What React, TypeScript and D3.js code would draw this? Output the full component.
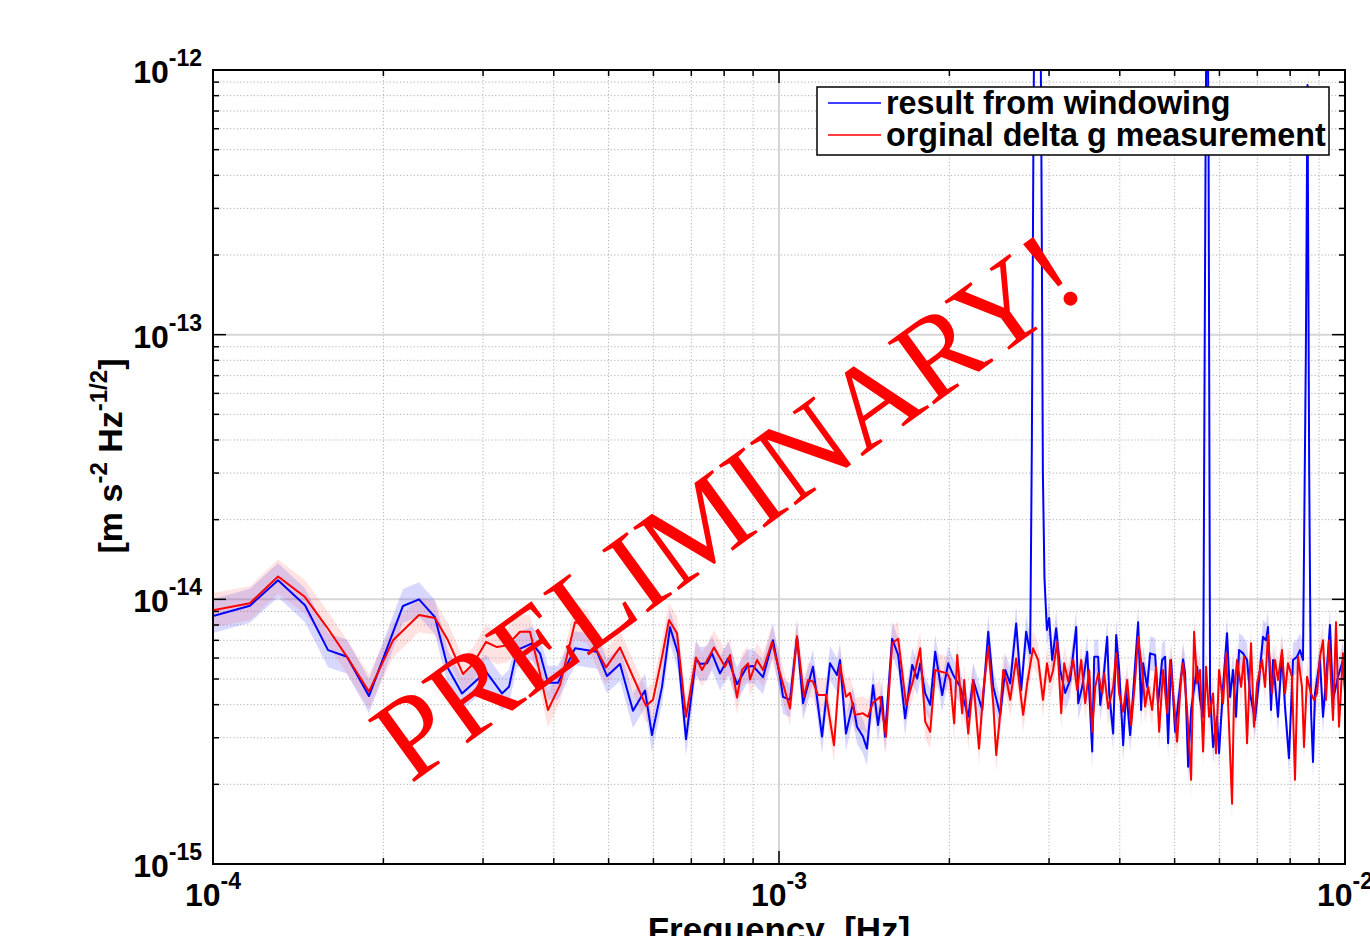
import React, { useEffect, useRef } from 'react';
import * as d3 from 'd3';

// Frequencies in mHz, amplitude spectral density in units of 1e-15 m s^-2 Hz^-1/2
const blueFreq = [
  0.1000, 0.1162, 0.1303, 0.1454, 0.1597, 0.1725, 0.1886, 0.2166, 0.2312, 0.2467,
  0.2601, 0.2754, 0.3036, 0.3240, 0.3334, 0.3444, 0.3661, 0.3782, 0.3907, 0.4070,
  0.4361, 0.4769, 0.4967, 0.5237, 0.5521, 0.5798, 0.5965, 0.6213, 0.6418, 0.6631,
  0.6850, 0.7134, 0.7251, 0.7461, 0.7614, 0.7866, 0.8126, 0.8429, 0.8779, 0.8996,
  0.9370, 0.9759, 1.0041, 1.0164, 1.0458, 1.0760, 1.1025, 1.1483, 1.1913, 1.2306,
  1.2660, 1.2816, 1.3132, 1.3511, 1.3733, 1.4072, 1.4302, 1.4659, 1.4961, 1.5206,
  1.5393, 1.5843, 1.6238, 1.6705, 1.7193, 1.7546, 1.7762, 1.8126, 1.8499, 1.8879,
  1.9423, 1.9904, 2.0313, 2.0900, 2.1593, 2.2038, 2.2861, 2.3425, 2.3905, 2.4594,
  2.5100, 2.5615, 2.6245, 2.6784, 2.7334, 2.7783, 2.7976, 2.8159, 2.8354, 2.8621,
  2.8855, 2.9056, 2.9257, 2.9447, 2.9735, 3.0015, 3.0384, 3.0883, 3.1392, 3.2038,
  3.2698, 3.3507, 3.3780, 3.4335, 3.5040, 3.5759, 3.6051, 3.6641, 3.6940, 3.7393,
  3.8005, 3.8316, 3.8944, 3.9421, 3.9904, 4.0556, 4.1053, 4.1725, 4.2238, 4.3105,
  4.3633, 4.3990, 4.4711, 4.5260, 4.6189, 4.6756, 4.7522, 4.8106, 4.8696, 4.9294,
  5.0101, 5.0717, 5.1757, 5.2180, 5.2821, 5.3468, 5.4786, 5.5457, 5.6136, 5.6710,
  5.7057, 5.7407, 5.7758, 5.8466, 5.9423, 5.9909, 6.0890, 6.1887, 6.2647, 6.3417,
  6.4196, 6.4984, 6.6051, 6.7133, 6.7955, 6.9349, 7.0488, 7.1642, 7.2522, 7.3115,
  7.4010, 7.4615, 7.6146, 7.7394, 7.8342, 7.9625, 8.0929, 8.2258, 8.3269, 8.4292,
  8.5259, 8.5851, 8.6445, 8.7077, 8.7790, 8.8507, 9.0327, 9.1437, 9.2938, 9.4080,
  9.5236, 9.7194, 9.9191, 10.000
];
const blueAmp = [
  8.65, 9.46, 11.8, 9.5, 6.43, 6.07, 4.31, 9.44, 10.0, 8.56,
  5.49, 4.41, 5.33, 4.41, 4.67, 6.43, 6.82, 6.25, 4.84, 4.84,
  6.53, 6.34, 5.13, 5.7, 3.79, 4.52, 3.07, 4.67, 7.86, 6.25,
  2.96, 5.98, 5.7, 5.73, 6.25, 5.25, 5.98, 4.78, 5.56, 5.6,
  5.08, 7.0, 5.1, 4.28, 4.17, 7.22, 4.05, 5.56, 3.03, 5.73,
  5.18, 5.9, 3.11, 4.05, 3.3, 3.03, 2.73, 4.74, 3.35, 4.28,
  3.03, 7.1, 6.16, 3.55, 5.65, 5.02, 5.73, 4.41, 3.99, 6.34,
  4.35, 5.73, 5.18, 4.67, 3.6, 4.96, 3.82, 7.54, 4.67, 3.66,
  5.41, 4.81, 8.1, 4.54, 7.54, 6.25, 40, 600, 5000, 9000,
  4000, 700, 30, 12, 7.66, 8.5, 5.9, 7.77, 5.41, 4.43,
  4.96, 7.86, 4.05, 4.67, 6.34, 2.66, 6.07, 6.07, 3.99, 4.89,
  7.22, 4.41, 3.11, 7.33, 5.41, 2.81, 4.54, 3.07, 4.41, 8.2,
  3.82, 5.73, 4.67, 6.25, 6.16, 4.05, 5.9, 6.07, 2.86, 5.9,
  3.16, 4.05, 5.93, 5.25, 2.33, 3.82, 5.56, 4.17, 3.6, 500,
  4000, 500, 4.41, 2.77, 3.6, 2.62, 4.67, 7.45, 4.28, 5.41,
  3.6, 6.43, 6.25, 5.9, 4.41, 3.5, 4.96, 7.22, 7.0, 7.86,
  3.82, 5.9, 3.6, 6.25, 3.93, 2.51, 5.9, 6.07, 6.43, 5.9,
  80, 877, 30, 3.82, 2.43, 4.41, 5.9, 3.6, 5.56, 8.0,
  4.17, 5.1, 5.9, 4.67
];

const redFreq = [
  0.1000, 0.1162, 0.1303, 0.1454, 0.1590, 0.1732, 0.1886, 0.2080, 0.2312, 0.2467,
  0.2601, 0.2765, 0.2880, 0.3036, 0.3175, 0.3307, 0.3487, 0.3631, 0.3752, 0.3907,
  0.4103, 0.4361, 0.4579, 0.4731, 0.4947, 0.5237, 0.5521, 0.5821, 0.5989, 0.6213,
  0.6392, 0.6604, 0.6850, 0.7134, 0.7311, 0.7676, 0.8028, 0.8193, 0.8429, 0.8603,
  0.8815, 0.8887, 0.9144, 0.9370, 0.9719, 1.0041, 1.0458, 1.0760, 1.1070, 1.1252,
  1.1483, 1.1720, 1.2107, 1.2507, 1.2816, 1.3132, 1.3347, 1.3622, 1.4072, 1.4360,
  1.4659, 1.5083, 1.5456, 1.5843, 1.6238, 1.6773, 1.7263, 1.7762, 1.8126, 1.8499,
  1.8879, 1.9823, 2.0067, 2.0396, 2.0647, 2.1070, 2.1243, 2.1593, 2.2038, 2.2561,
  2.2954, 2.3425, 2.3905, 2.4198, 2.4594, 2.4896, 2.5304, 2.5615, 2.6245, 2.7003,
  2.7446, 2.8104, 2.8703, 2.9270, 2.9751, 3.0116, 3.0508, 3.1009, 3.1520, 3.1908,
  3.2433, 3.3100, 3.3643, 3.4196, 3.4756, 3.5327, 3.5759, 3.6198, 3.6641, 3.7242,
  3.7546, 3.8160, 3.8944, 3.9421, 3.9904, 4.0556, 4.1220, 4.1895, 4.2583, 4.3105,
  4.3811, 4.4349, 4.4893, 4.5630, 4.6377, 4.6947, 4.7716, 4.8499, 4.9094, 4.9898,
  5.0511, 5.1338, 5.1757, 5.2607, 5.3468, 5.4123, 5.4786, 5.5457, 5.6136, 5.6826,
  5.7524, 5.8466, 5.9182, 5.9909, 6.0890, 6.1636, 6.2393, 6.3160, 6.3675, 6.4458,
  6.5516, 6.6321, 6.7133, 6.8232, 6.9067, 6.9917, 7.1352, 7.2228, 7.3115, 7.4312,
  7.5225, 7.6146, 7.7394, 7.8342, 7.9302, 8.0601, 8.1591, 8.2594, 8.3950, 8.4636,
  8.5677, 8.7077, 8.8148, 8.9231, 9.0327, 9.1437, 9.2560, 9.3698, 9.5236, 9.6406,
  9.7591, 9.9191, 10.000
];
const redAmp = [
  9.1, 9.66, 12.2, 10.2, 7.84, 5.98, 4.48, 7.0, 8.72, 8.5,
  7.0, 5.22, 5.7, 6.9, 6.6, 6.7, 7.54, 7.54, 5.65, 3.82,
  4.74, 8.2, 7.9, 6.6, 5.53, 6.58, 5.1, 3.96, 4.17, 6.07,
  8.36, 7.45, 3.6, 6.03, 5.41, 6.58, 5.56, 6.16, 4.26, 5.41,
  5.73, 4.98, 5.9, 5.41, 6.9, 5.25, 3.87, 7.25, 4.28, 4.96,
  4.89, 4.35, 4.35, 2.81, 5.65, 4.28, 4.43, 3.66, 3.71, 3.6,
  4.07, 4.28, 3.03, 6.82, 7.1, 3.99, 4.96, 6.53, 3.45, 3.16,
  5.41, 5.25, 4.96, 3.4, 6.16, 3.71, 4.96, 3.11, 4.96, 2.73,
  4.48, 6.6, 4.05, 2.58, 3.71, 5.41, 4.81, 4.17, 5.98, 3.66,
  4.81, 6.53, 5.9, 4.17, 5.73, 4.89, 5.41, 6.9, 3.71, 5.73,
  4.89, 5.9, 4.54, 5.9, 4.05, 5.41, 3.16, 4.67, 5.25, 4.41,
  5.25, 3.87, 4.67, 6.25, 4.41, 3.76, 4.96, 3.35, 4.96, 7.22,
  5.41, 3.93, 4.67, 3.82, 5.56, 3.16, 5.41, 3.71, 5.9, 4.05,
  2.9, 5.1, 5.73, 3.82, 2.08, 7.54, 4.81, 5.41, 2.66, 5.56,
  3.6, 4.41, 2.62, 5.41, 4.05, 6.25, 3.3, 1.69, 4.41, 5.9,
  4.67, 6.07, 2.86, 6.82, 3.3, 4.81, 5.9, 4.67, 7.33, 4.41,
  5.9, 4.96, 6.43, 4.41, 5.73, 5.1, 2.08, 6.07, 4.67, 2.77,
  5.1, 4.41, 4.17, 4.41, 6.07, 7.0, 4.17, 7.0, 3.5, 8.2,
  3.3, 6.25, 4.41
];

// width of the shaded confidence band (ratio on the log axis)
const bandRatio = 1.16;

const xDecades = [-4, -3, -2];
const yDecades = [-15, -14, -13, -12];
const legendLabels = ['result from windowing', 'orginal delta g measurement'];
const seriesColors = ['#0000ff', '#ff0000'];
const bandColors = ['#3c3cff', '#ff5050'];

const W = 1370;
const H = 936;
const margin = { top: 70, right: 25, bottom: 72, left: 213 };

const App = () => {
  const svgRef = useRef(null);

  useEffect(() => {
    const svg = d3.select(svgRef.current);
    svg.selectAll('*').remove();

    const innerW = W - margin.left - margin.right;
    const innerH = H - margin.top - margin.bottom;
    const x = d3.scaleLog().domain([1e-4, 1e-2]).range([margin.left, margin.left + innerW]);
    const y = d3.scaleLog().domain([1e-15, 1e-12]).range([margin.top + innerH, margin.top]);
    const x0 = margin.left, x1 = margin.left + innerW;
    const y0 = margin.top, y1 = margin.top + innerH;

    svg.append('rect').attr('width', W).attr('height', H).attr('fill', '#fff');

    svg.append('defs').append('clipPath').attr('id', 'plotclip')
      .append('rect').attr('x', x0).attr('y', y0).attr('width', innerW).attr('height', innerH);

    // tick values
    const xMinor = [];
    const yMinor = [];
    xDecades.slice(0, -1).forEach(e => { for (let m = 2; m <= 9; m++) xMinor.push(m * Math.pow(10, e)); });
    yDecades.slice(0, -1).forEach(e => { for (let m = 2; m <= 9; m++) yMinor.push(m * Math.pow(10, e)); });
    const xMajor = xDecades.map(e => Math.pow(10, e));
    const yMajor = yDecades.map(e => Math.pow(10, e));

    // grid
    const grid = svg.append('g');
    grid.selectAll('.xminor').data(xMinor).enter().append('line')
      .attr('x1', d => x(d)).attr('x2', d => x(d)).attr('y1', y0).attr('y2', y1)
      .attr('stroke', '#b0b0b0').attr('stroke-width', 1).attr('stroke-dasharray', '1.2,2.2');
    grid.selectAll('.yminor').data(yMinor).enter().append('line')
      .attr('x1', x0).attr('x2', x1).attr('y1', d => y(d)).attr('y2', d => y(d))
      .attr('stroke', '#b0b0b0').attr('stroke-width', 1).attr('stroke-dasharray', '1.2,2.2');
    grid.selectAll('.xmajor').data(xMajor.slice(1, -1)).enter().append('line')
      .attr('x1', d => x(d)).attr('x2', d => x(d)).attr('y1', y0).attr('y2', y1)
      .attr('stroke', '#d6d6d6').attr('stroke-width', 2);
    grid.selectAll('.ymajor').data(yMajor.slice(1, -1)).enter().append('line')
      .attr('x1', x0).attr('x2', x1).attr('y1', d => y(d)).attr('y2', d => y(d))
      .attr('stroke', '#d6d6d6').attr('stroke-width', 2);

    // series
    const series = [
      blueFreq.map((f, i) => ({ f: f * 1e-3, v: blueAmp[i] * 1e-15 })),
      redFreq.map((f, i) => ({ f: f * 1e-3, v: redAmp[i] * 1e-15 }))
    ];

    const plot = svg.append('g').attr('clip-path', 'url(#plotclip)');
    const area = d3.area()
      .x(d => x(d.f))
      .y0(d => y(d.v / bandRatio))
      .y1(d => y(d.v * bandRatio));
    const line = d3.line().x(d => x(d.f)).y(d => y(d.v));

    series.forEach((s, i) => {
      plot.append('path').attr('d', area(s))
        .attr('fill', bandColors[i]).attr('fill-opacity', i === 0 ? 0.2 : 0.16).attr('stroke', 'none');
    });
    series.forEach((s, i) => {
      plot.append('path').attr('d', line(s))
        .attr('fill', 'none').attr('stroke', seriesColors[i])
        .attr('stroke-width', 2).attr('stroke-linejoin', 'round');
    });

    // axes box and ticks (inward, on all four sides)
    const ax = svg.append('g').attr('stroke', '#000');
    const tick = (xs, ys, len) => {
      xs.forEach(v => {
        ax.append('line').attr('x1', x(v)).attr('x2', x(v)).attr('y1', y1).attr('y2', y1 - len).attr('stroke-width', 1.5);
        ax.append('line').attr('x1', x(v)).attr('x2', x(v)).attr('y1', y0).attr('y2', y0 + len).attr('stroke-width', 1.5);
      });
      ys.forEach(v => {
        ax.append('line').attr('x1', x0).attr('x2', x0 + len).attr('y1', y(v)).attr('y2', y(v)).attr('stroke-width', 1.5);
        ax.append('line').attr('x1', x1).attr('x2', x1 - len).attr('y1', y(v)).attr('y2', y(v)).attr('stroke-width', 1.5);
      });
    };
    tick(xMinor, yMinor, 6);
    tick(xMajor, yMajor, 13);
    ax.append('rect').attr('x', x0).attr('y', y0).attr('width', innerW).attr('height', innerH)
      .attr('fill', 'none').attr('stroke-width', 2);

    const font = '"Liberation Sans", Arial, Helvetica, sans-serif';

    // y tick labels
    yDecades.forEach(e => {
      const t = svg.append('text')
        .attr('x', x0 - 11).attr('y', y(Math.pow(10, e)) + 13)
        .attr('text-anchor', 'end').attr('font-family', font).attr('font-weight', 'bold')
        .attr('font-size', 32).attr('fill', '#000');
      t.append('tspan').text('10');
      t.append('tspan').attr('dy', -17).attr('font-size', 23).text(`${e}`);
    });

    // x tick labels
    xDecades.forEach(e => {
      const t = svg.append('text')
        .attr('x', x(Math.pow(10, e))).attr('y', 906)
        .attr('text-anchor', 'middle').attr('font-family', font).attr('font-weight', 'bold')
        .attr('font-size', 32).attr('fill', '#000');
      t.append('tspan').text('10');
      t.append('tspan').attr('dy', -17).attr('font-size', 23).text(`${e}`);
    });

    // axis titles
    svg.append('text')
      .attr('x', (x0 + x1) / 2).attr('y', 942)
      .attr('text-anchor', 'middle').attr('font-family', font).attr('font-weight', 'bold')
      .attr('font-size', 35).attr('xml:space', 'preserve').style('white-space', 'pre')
      .text('Frequency  [Hz]');

    const yl = svg.append('text')
      .attr('transform', `translate(122,${(y0 + y1) / 2 - 11}) rotate(-90)`)
      .attr('text-anchor', 'middle').attr('font-family', font).attr('font-weight', 'bold')
      .attr('font-size', 34);
    yl.append('tspan').text('[m s');
    yl.append('tspan').attr('dy', -15).attr('font-size', 24).text('-2');
    yl.append('tspan').attr('dy', 15).text(' Hz');
    yl.append('tspan').attr('dy', -15).attr('font-size', 24).text('-1/2');
    yl.append('tspan').attr('dy', 15).text(']');

    // legend
    const lg = svg.append('g');
    lg.append('rect').attr('x', 817).attr('y', 87).attr('width', 512).attr('height', 68)
      .attr('fill', '#fff').attr('stroke', '#000').attr('stroke-width', 1.5);
    legendLabels.forEach((label, i) => {
      const cy = 103 + i * 32;
      lg.append('line').attr('x1', 828).attr('x2', 881).attr('y1', cy).attr('y2', cy)
        .attr('stroke', seriesColors[i]).attr('stroke-width', 1.5);
      lg.append('text').attr('x', 886).attr('y', cy + 11)
        .attr('font-family', font).attr('font-weight', 'bold').attr('font-size', 32.3)
        .text(label);
    });

    // watermark
    svg.append('text')
      .attr('transform', 'translate(750,538) rotate(-36)')
      .attr('text-anchor', 'middle')
      .attr('font-family', '"Liberation Serif", "Times New Roman", Times, serif')
      .attr('font-size', 118).attr('fill', '#ff0000')
      .text('PRELIMINARY!');
  }, []);

  return (
    <div style={{ position: 'absolute', left: 0, top: 0, width: W, height: H, overflow: 'hidden' }}>
      <svg ref={svgRef} width={W} height={H} style={{ display: 'block' }}></svg>
    </div>
  );
};

export default App;
